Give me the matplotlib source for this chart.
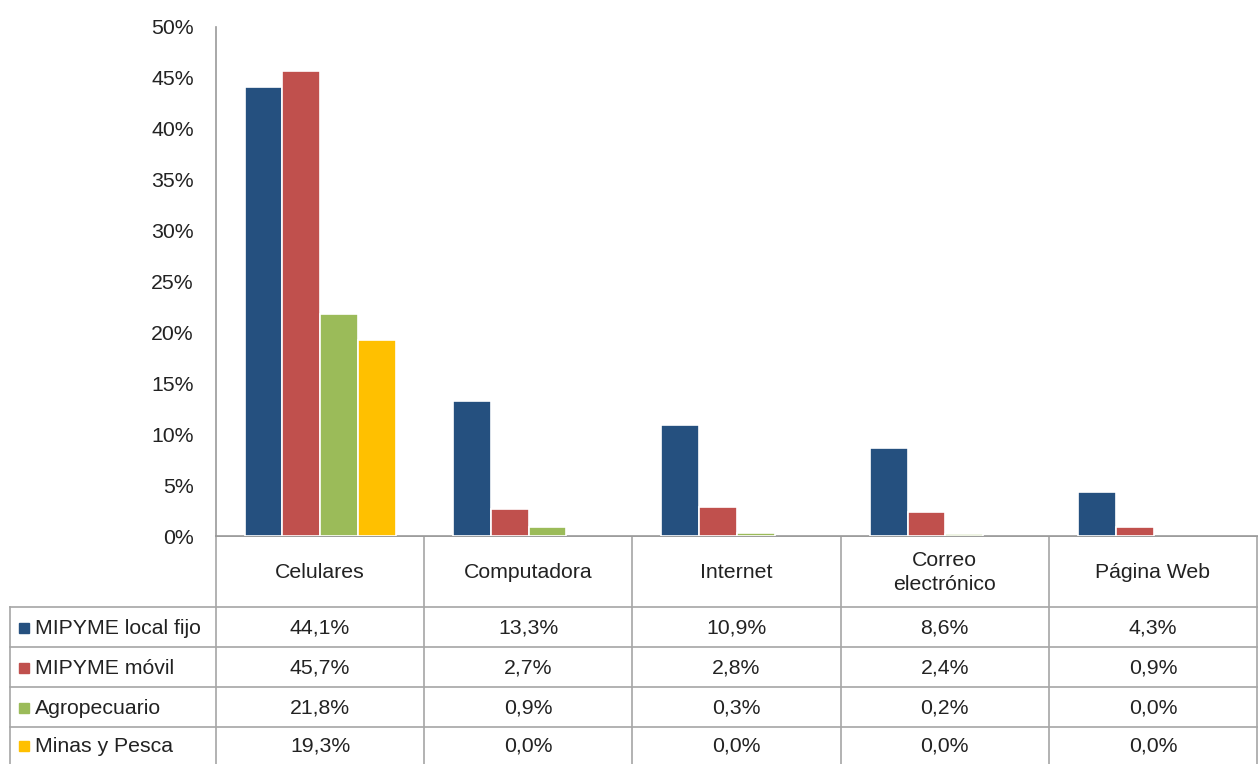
import matplotlib
matplotlib.use("Agg")
import matplotlib.pyplot as plt
import numpy as np
from matplotlib.lines import Line2D
from matplotlib.patches import Rectangle

categories = ["Celulares", "Computadora", "Internet", "Correo\nelectrónico", "Página Web"]
series_names = ["MIPYME local fijo", "MIPYME móvil", "Agropecuario", "Minas y Pesca"]
local_fijo = [44.1, 13.3, 10.9, 8.6, 4.3]
movil = [45.7, 2.7, 2.8, 2.4, 0.9]
agropecuario = [21.8, 0.9, 0.3, 0.2, 0.0]
minas_pesca = [19.3, 0.0, 0.0, 0.0, 0.0]
series_values = [local_fijo, movil, agropecuario, minas_pesca]
colors = ["#25507F", "#C0504D", "#9BBB59", "#FFC000"]
yticks = [0, 5, 10, 15, 20, 25, 30, 35, 40, 45, 50]

W, H = 1258, 764
plt.rcParams['font.family'] = ['Liberation Sans', 'DejaVu Sans']
fs = 15.3
fig = plt.figure(figsize=(W / 100, H / 100), dpi=100)

# main plot axes (pixel layout)
x0, x1, ytop, ybot = 216, 1258, 27, 536
ax = fig.add_axes([x0 / W, 1 - ybot / H, (x1 - x0) / W, (ybot - ytop) / H])
n = len(categories)
nser = len(series_values)
bw = 0.1812
offsets = (np.arange(nser) - (nser - 1) / 2) * bw
xpos = np.arange(n)
for i, vals in enumerate(series_values):
    v = np.array(vals)
    lw = np.where(v > 0, 1.2, 0.0)
    ax.bar(xpos + offsets[i], v, width=bw, color=colors[i],
           edgecolor="white", linewidth=lw, zorder=3)
ax.set_xlim(-0.5, n - 0.5)
ax.set_ylim(0, 50)
ax.set_yticks(yticks)
ax.set_yticklabels([f"{t}%" for t in yticks], fontsize=fs, color="#222222")
ax.tick_params(axis="y", length=0, pad=16)
ax.set_xticks([])
for s in ["top", "right"]:
    ax.spines[s].set_visible(False)
ax.spines["left"].set_color("#999999")
ax.spines["bottom"].set_color("#999999")
ax.spines["left"].set_linewidth(1.2)
ax.spines["bottom"].set_linewidth(1.2)

# table overlay axes in pixel coordinates
tab = fig.add_axes([0, 0, 1, 1], zorder=-1)
tab.set_xlim(0, W)
tab.set_ylim(H, 0)
tab.axis("off")
lc = "#A6A6A6"
col_edges = np.linspace(x0, x1 - 1, n + 1)
row_edges = [536, 607, 647, 687, 727, 767]
leg_left = 10
tab.add_line(Line2D([x0, x1], [row_edges[0]] * 2, color=lc, lw=1.2))
for y in row_edges[1:]:
    tab.add_line(Line2D([leg_left, x1], [y, y], color=lc, lw=1.2))
for x in col_edges:
    tab.add_line(Line2D([x, x], [row_edges[0], H], color=lc, lw=1.2))
tab.add_line(Line2D([leg_left, leg_left], [row_edges[1], H], color=lc, lw=1.2))

# category labels
for j, c in enumerate(categories):
    cx = (col_edges[j] + col_edges[j + 1]) / 2
    cy = (row_edges[0] + row_edges[1]) / 2 + 1
    tab.text(cx, cy, c, ha="center", va="center", fontsize=fs, color="#222222",
             linespacing=1.4)

# rows
for i, (name, vals) in enumerate(zip(series_names, series_values)):
    cy = (row_edges[i + 1] + row_edges[i + 2]) / 2 + 1
    if i == 3:
        cy = 746
    tab.add_patch(Rectangle((19, cy - 5), 10, 10, color=colors[i]))
    tab.text(35, cy, name, ha="left", va="center", fontsize=fs, color="#222222")
    for j, v in enumerate(vals):
        cx = (col_edges[j] + col_edges[j + 1]) / 2
        tab.text(cx, cy, f"{v:.1f}%".replace(".", ","), ha="center", va="center",
                 fontsize=fs, color="#222222")

fig.savefig("out.png", dpi=100, facecolor="white")
